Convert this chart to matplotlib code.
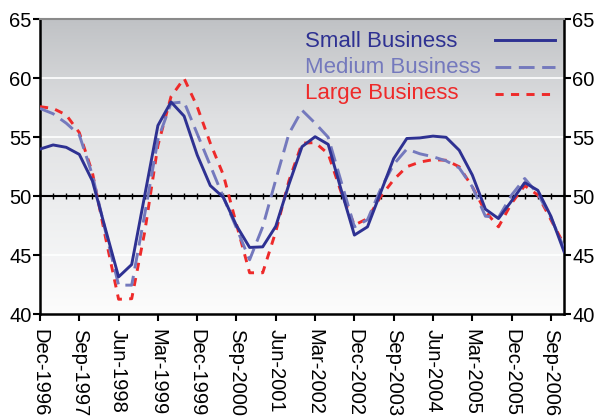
import numpy as np
import matplotlib
matplotlib.use("Agg")
import matplotlib.pyplot as plt
from matplotlib.colors import LinearSegmentedColormap

plt.rcParams['font.family'] = ['Liberation Sans', 'DejaVu Sans']

tick_labels = ["Dec-1996", "Sep-1997", "Jun-1998", "Mar-1999", "Dec-1999", "Sep-2000",
               "Jun-2001", "Mar-2002", "Dec-2002", "Sep-2003", "Jun-2004", "Mar-2005",
               "Dec-2005", "Sep-2006"]

small = [54.0, 54.35, 54.15, 53.55, 51.3, 47.2, 43.15, 44.2, 50.1, 56.0, 58.0, 56.8,
         53.5, 50.9, 49.9, 47.5, 45.65, 45.7, 47.45, 51.0, 54.2, 55.05, 54.4, 50.5,
         46.7, 47.4, 50.3, 53.2, 54.9, 54.95, 55.1, 55.0, 53.9, 51.8, 48.9, 48.1,
         49.6, 51.15, 50.5, 48.3, 45.3]
medium = [57.45, 57.0, 56.2, 55.2, 51.8, 47.0, 42.45, 42.45, 48.5, 54.8, 57.9, 58.0,
          55.3, 52.6, 49.9, 47.3, 44.6, 47.4, 51.4, 55.3, 57.3, 56.2, 55.0, 51.2,
          47.4, 48.0, 50.6, 52.7, 54.0, 53.6, 53.35, 53.0, 52.4, 50.8, 48.3, 48.2,
          50.1, 51.5, 50.2, 48.2, 45.6]
large = [57.6, 57.45, 56.9, 55.4, 52.0, 46.5, 41.25, 41.3, 47.0, 54.3, 58.45, 60.0,
         57.6, 54.5, 51.8, 47.6, 43.5, 43.5, 47.0, 51.3, 54.5, 54.55, 53.6, 50.3,
         47.55, 48.1, 49.95, 51.4, 52.5, 52.9, 53.1, 53.05, 52.5, 50.8, 48.7, 47.4,
         49.4, 50.9, 50.1, 48.0, 45.9]

series_names = ["Small Business", "Medium Business", "Large Business"]
colors = ["#2e3192", "#7479bd", "#ee2a2a"]
dash_styles = [None, (5.4, 2.6), (2.8, 2.5)]

x = np.arange(len(small))

fig = plt.figure(figsize=(5.99, 4.17), dpi=100)
ax = fig.add_axes([40/599, 1-314/417, (564-40)/599, (314-19.5)/417])

# gradient background
cmap = LinearSegmentedColormap.from_list("bg", ["#fcfcfc", "#eeeff0", "#dfe0e2", "#c0c2c5"])
grad = np.linspace(0, 1, 256).reshape(-1, 1)
ax.imshow(grad, extent=[0, 1, 0, 1], transform=ax.transAxes, aspect='auto',
          cmap=cmap, origin='lower', zorder=0)

for yv in [45, 55, 60]:
    ax.axhline(yv, color='white', lw=1.2, zorder=1)

lines = []
for i, (vals, col, ds) in enumerate(zip([small, medium, large], colors, dash_styles)):
    kw = dict(color=col, lw=2.1, zorder=5 - i)
    if ds is not None:
        kw['dashes'] = ds
    ax.plot(x, vals, **kw)

ax.set_xlim(0, len(small) - 1)
ax.set_ylim(40, 65)
ax.set_yticks([40, 45, 50, 55, 60, 65])
ax.set_xticks(x[::3])
ax.set_xticklabels(tick_labels, rotation=-90, fontsize=14.5)
ax.tick_params(axis='y', labelsize=14.5, left=True, right=True, labelright=True,
               direction='out', length=5, width=1.5, pad=1)
ax.tick_params(axis='x', direction='out', length=5, width=1.5, pad=6)

for s in ['left', 'right', 'bottom']:
    ax.spines[s].set_linewidth(1.8)
    ax.spines[s].set_color('black')
ax.spines['top'].set_color('#8a8a8a')
ax.spines['top'].set_linewidth(1.5)

# axis line at 50 with quarter ticks
sec = ax.secondary_xaxis((50 - 40) / 25)
sec.set_xticks(x)
sec.set_xticklabels([])
sec.tick_params(direction='inout', length=4, width=1, color='black')
sec.spines['bottom'].set_linewidth(1.5)
sec.spines['bottom'].set_color('black')

# legend: text left, sample line right
text_y = [0.9076, 0.8193, 0.7301]
line_y = [0.930, 0.839, 0.746]
for name, col, ds, ty, ly in zip(series_names, colors, dash_styles, text_y, line_y):
    ax.text(0.506, ty, name, color=col, fontsize=16, transform=ax.transAxes,
            ha='left', va='baseline', zorder=6)
    kw = dict(color=col, lw=2.1, transform=ax.transAxes, zorder=6)
    if ds is not None:
        kw['dashes'] = ds
    ax.plot([0.868, 0.983], [ly, ly], **kw)

fig.savefig("out.png", dpi=100)
